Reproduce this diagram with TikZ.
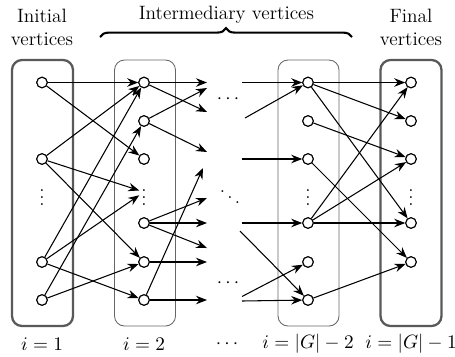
\documentclass[tikz,border=0pt]{standalone}
\usepackage{tikz}
\usetikzlibrary{arrows.meta,decorations.pathreplacing}
\tikzset{
  vertex/.style={draw, circle, fill=white, semithick, minimum size=2.1mm, inner sep=0pt},
  arrow/.style={-{Stealth[length=2.2mm,width=1.7mm]}, semithick},
  endbox/.style={draw=black!65, line width=1.3pt, rounded corners=2mm, minimum width=12.2mm, minimum height=53.2mm},
  midbox/.style={draw=black!60, line width=0.5pt, rounded corners=2mm, minimum width=12.2mm, minimum height=53.2mm},
  dotsnode/.style={inner sep=1pt},
  coltext/.style={align=center}
}
\begin{document}
\begin{tikzpicture}[font=\fontsize{11}{13}\selectfont]
  \useasboundingbox (0,0) rectangle (9.1,-7.12);

  % the four columns
  \node[endbox] (box1) at (0.85,-3.86) {};
  \node[midbox] (box2) at (2.90,-3.86) {};
  \node[midbox] (box3) at (6.17,-3.86) {};
  \node[endbox] (box4) at (8.22,-3.86) {};

  % headings
  \node[coltext] (initial) at (0.84,-0.54) {Initial\\vertices};
  \node[coltext] (inter) at (4.53,-0.30) {Intermediary vertices};
  \node[coltext] (final) at (8.22,-0.54) {Final\\vertices};
  \coordinate (bl) at (2.00,-0.74);
  \coordinate (br) at (7.04,-0.74);
  \draw[decorate, decoration={brace, amplitude=5pt}, line width=1.2pt] (bl) -- (br);

  % vertices
  \foreach \r/\y in {a/-1.65,b/-3.18,d/-5.24,e/-6.0}
    \node[vertex] (c1\r) at (0.84,\y) {};
  \foreach \r/\y in {a/-1.65,b/-2.42,c/-3.18,e/-4.46,f/-5.24,g/-6.0}
    \node[vertex] (c2\r) at (2.88,\y) {};
  \foreach \r/\y in {a/-1.65,b/-2.42,c/-3.18,e/-4.46,f/-5.24,g/-6.0}
    \node[vertex] (c3\r) at (6.16,\y) {};
  \foreach \r/\y in {a/-1.65,b/-2.42,c/-3.18,e/-4.46,f/-5.24}
    \node[vertex] (c4\r) at (8.22,\y) {};
  \node[dotsnode] (c1v) at (0.84,-3.84) {$\vdots$};
  \node[dotsnode] (c2v) at (2.88,-3.84) {$\vdots$};
  \node[dotsnode] (c3v) at (6.16,-3.84) {$\vdots$};
  \node[dotsnode] (c4v) at (8.22,-3.84) {$\vdots$};

  % dots in the middle
  \node (mtop) at (4.56,-1.98) {$\cdots$};
  \node (mmid) at (4.60,-3.84) {$\ddots$};
  \node (mbot) at (4.56,-5.66) {$\cdots$};

  % loose ends of the middle arrows
  \coordinate (m1) at (4.14,-1.65);
  \coordinate (m2) at (4.14,-2.24);
  \coordinate (m3) at (4.14,-1.76);
  \coordinate (m4) at (4.14,-3.04);
  \coordinate (m5) at (4.06,-3.36);
  \coordinate (m6) at (4.14,-3.96);
  \coordinate (m7) at (4.14,-4.46);
  \coordinate (m8) at (4.14,-4.96);
  \coordinate (m9) at (4.14,-5.24);
  \coordinate (m10) at (4.14,-6.0);
  \coordinate (n1) at (4.84,-1.65);
  \coordinate (n2) at (4.90,-2.36);
  \coordinate (n3) at (4.84,-3.18);
  \coordinate (n4) at (4.84,-4.46);
  \coordinate (n5) at (4.80,-4.62);
  \coordinate (n6) at (4.84,-5.93);
  \coordinate (n7) at (4.84,-6.02);

  % edges
  \foreach \s/\t in {c1a/c2a,c1a/c2c,c1b/c2a,c1b/c2v,c1b/c2f,c1d/c2a,c1d/c2v,c1d/c2g,c1e/c2b,c1e/c2f}
    \draw[arrow] (\s) -- (\t);
  \foreach \s/\t in {c2a/m1,c2a/m2,c2b/m3,c2b/m4,c2g/m5,c2e/m6,c2e/m7,c2e/m8,c2f/m9,c2g/m10}
    \draw[arrow] (\s) -- (\t);
  \foreach \s/\t in {n1/c3a,n2/c3a,n3/c3c,n4/c3e,n5/c3g,n6/c3f,n7/c3g}
    \draw[arrow] (\s) -- (\t);
  \foreach \s/\t in {c3a/c4a,c3a/c4b,c3a/c4e,c3b/c4c,c3c/c4f,c3e/c4a,c3e/c4c,c3e/c4e,c3g/c4f}
    \draw[arrow] (\s) -- (\t);

  % redraw vertices on top of the edges
  \foreach \c in {c1a,c1b,c1d,c1e,c2a,c2b,c2c,c2e,c2f,c2g,c3a,c3b,c3c,c3e,c3f,c3g,c4a,c4b,c4c,c4e,c4f}
    \draw[semithick, fill=white] (\c) circle (1.05mm);

  % bottom labels
  \node (i1) at (0.84,-6.88) {$i=1$};
  \node (i2) at (2.88,-6.88) {$i=2$};
  \node (idots) at (4.54,-6.88) {$\cdots$};
  \node (i3) at (6.16,-6.88) {$i=|G|-2$};
  \node (i4) at (8.22,-6.88) {$i=|G|-1$};
\end{tikzpicture}
\end{document}
